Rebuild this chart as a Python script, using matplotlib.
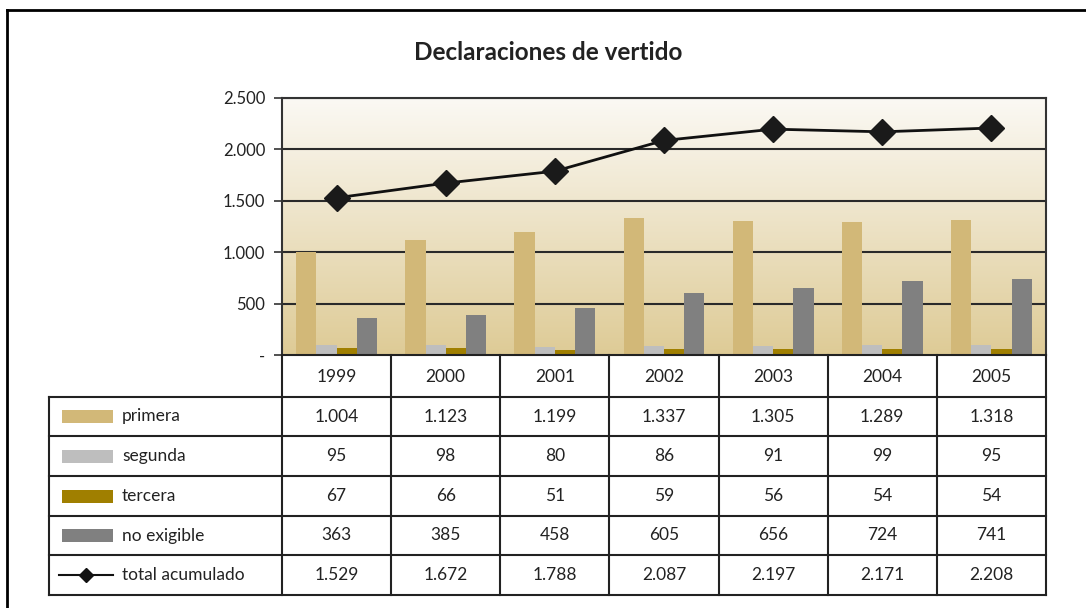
import matplotlib
matplotlib.use("Agg")
import matplotlib.pyplot as plt
import numpy as np
from matplotlib.lines import Line2D
from matplotlib.patches import Rectangle

plt.rcParams['font.family'] = ['Lato', 'DejaVu Sans']

years = ["1999", "2000", "2001", "2002", "2003", "2004", "2005"]
primera = [1004, 1123, 1199, 1337, 1305, 1289, 1318]
segunda = [95, 98, 80, 86, 91, 99, 95]
tercera = [67, 66, 51, 59, 56, 54, 54]
no_exigible = [363, 385, 458, 605, 656, 724, 741]
total = [1529, 1672, 1788, 2087, 2197, 2171, 2208]
series_names = ["primera", "segunda", "tercera", "no exigible"]
yticks = [0, 500, 1000, 1500, 2000, 2500]
ytick_labels = ["-", "500", "1.000", "1.500", "2.000", "2.500"]
title = "Declaraciones de vertido"

colors = ["#D2B878", "#BEBEBE", "#A07F00", "#808080"]

def fmt(v):
    s = f"{v:,}".replace(",", ".")
    return s

W, H = 1086, 608
fig = plt.figure(figsize=(W / 100, H / 100), dpi=100)

def fx(px):
    return px / W

def fy(py):
    return 1 - py / H

# outer frame
fig.add_artist(Line2D([fx(7), fx(1086)], [fy(10), fy(10)], color="black", lw=2))
fig.add_artist(Line2D([fx(7), fx(7)], [fy(10), fy(608)], color="black", lw=2))

fig.text(fx(548), fy(52), title, ha="center", va="center", fontsize=17.5, fontweight="bold", color="#222222")

# main axes
L, R, T, B = 282, 1046, 98, 355
ax = fig.add_axes([fx(L), fy(B), fx(R - L), (B - T) / H])
n = len(years)
x = np.arange(n)
ax.set_xlim(-0.5, n - 0.5)
ax.set_ylim(0, 2500)

# gradient background
grad = np.linspace(0, 1, 256).reshape(-1, 1)
top = np.array([251, 249, 244]) / 255
bot = np.array([222, 203, 150]) / 255
img = top[None, None, :] * (1 - grad[:, :, None]) + bot[None, None, :] * grad[:, :, None]
ax.imshow(img, extent=(-0.5, n - 0.5, 0, 2500), aspect="auto", zorder=0, origin="upper")

for yv in yticks[1:]:
    ax.axhline(yv, color="#2a2a2a", lw=1.5, zorder=1)

bw = 0.185
all_series = [primera, segunda, tercera, no_exigible]
for i, (vals, c) in enumerate(zip(all_series, colors)):
    ax.bar(x + (i - 1.5) * bw, vals, width=bw, color=c, zorder=2, edgecolor="none")

ax.plot(x, total, color="#111111", lw=2, marker="D", markersize=13, markerfacecolor="#1a1a1a",
        markeredgecolor="#1a1a1a", zorder=4)

ax.set_yticks(yticks)
ax.set_yticklabels(ytick_labels, fontsize=12, color="#222222")
ax.set_xticks([])
ax.tick_params(axis="y", length=6, width=1.2, color="#333333", pad=6)
for s in ["left", "right", "top"]:
    ax.spines[s].set_color("#333333")
    ax.spines[s].set_linewidth(1.5)
ax.spines["bottom"].set_visible(False)

# table axes
TL, TB = 49, 595
tax = fig.add_axes([fx(TL), fy(TB), fx(R - TL), (TB - B) / H])
tax.set_xlim(TL, R)
tax.set_ylim(TB, B)
tax.axis("off")

col_w = (R - L) / n
row_tops = [397, 436, 476, 516, 555, 595]
lc = "#222222"
lw = 1.5
tfs = 12.5
# header row
tax.plot([L, R], [B, B], color=lc, lw=lw, clip_on=False)
for j in range(n + 1):
    xx = L + j * col_w
    tax.plot([xx, xx], [B, TB], color=lc, lw=lw, clip_on=False)
for j, yr in enumerate(years):
    tax.text(L + (j + 0.5) * col_w, (B + row_tops[0]) / 2 + 1, yr, ha="center", va="center", fontsize=tfs, color="#222222")
# data rows
for yy in row_tops:
    tax.plot([TL, R], [yy, yy], color=lc, lw=lw, clip_on=False)
tax.plot([TL, TL], [row_tops[0], TB], color=lc, lw=lw, clip_on=False)

labels = series_names + ["total acumulado"]
rows = all_series + [total]
for r, (lab, vals) in enumerate(zip(labels, rows)):
    yc = (row_tops[r] + row_tops[r + 1]) / 2
    if r < 4:
        tax.add_patch(Rectangle((62, yc - 6.5), 51, 13, facecolor=colors[r], edgecolor="none"))
    else:
        tax.plot([59, 113], [yc, yc], color="#111111", lw=1.5)
        tax.plot([86], [yc], marker="D", markersize=7, color="#111111")
    tax.text(122, yc, lab, ha="left", va="center", fontsize=tfs, color="#222222")
    for j, v in enumerate(vals):
        tax.text(L + (j + 0.5) * col_w, yc, fmt(v), ha="center", va="center", fontsize=tfs, color="#222222")

fig.savefig("out.png", dpi=100)
